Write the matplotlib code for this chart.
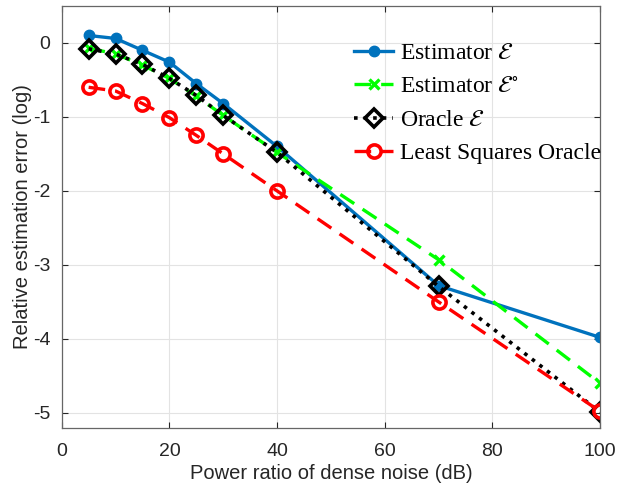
import matplotlib as mpl
import matplotlib.pyplot as plt
import numpy as np

mpl.rcParams["font.family"] = ["Liberation Sans", "DejaVu Sans"]
mpl.rcParams["mathtext.fontset"] = "stix"
mpl.rcParams["axes.unicode_minus"] = False

snr_db = [5, 10, 15, 20, 25, 30, 40, 70, 100]
est_e = [0.10, 0.06, -0.10, -0.26, -0.55, -0.82, -1.40, -3.28, -3.98]
est_e0 = [-0.07, -0.15, -0.30, -0.48, -0.72, -0.98, -1.48, -2.93, -4.60]
oracle_e = [-0.08, -0.15, -0.29, -0.48, -0.71, -0.98, -1.48, -3.29, -4.99]
ls_oracle = [-0.60, -0.65, -0.82, -1.01, -1.25, -1.50, -2.00, -3.50, -4.98]

labels = [r"Estimator $\mathcal{E}$", r"Estimator $\mathcal{E}^{\circ}$",
          r"Oracle $\mathcal{E}$", "Least Squares Oracle"]

fig = plt.figure(figsize=(6.19, 4.91), dpi=100)
ax = fig.add_axes([0.0997, 0.129, 0.8697, 0.859])

ax.plot(snr_db, est_e, "-", color="#0072BD", lw=2.4, marker="o", ms=7.5,
        label=labels[0])
ax.plot(snr_db, est_e0, "--", color="#00FF00", lw=2.4, marker="x", ms=7,
        mew=2.4, dashes=(5, 3), label=labels[1])
ax.plot(snr_db, oracle_e, ":", color="black", lw=2.6, marker="D", ms=9,
        mfc="none", mew=2.6, label=labels[2])
ax.plot(snr_db, ls_oracle, "--", color="red", lw=2.4, marker="o", ms=9.5,
        mfc="none", mew=2.6, dashes=(5, 3), label=labels[3])

ax.set_xlim(0, 100)
ax.set_ylim(-5.2, 0.5)
ax.set_xticks(np.arange(0, 101, 20))
ax.set_yticks(np.arange(-5, 1, 1))
ax.grid(True, color="#e3e3e3", lw=0.8)
ax.set_axisbelow(True)
ax.tick_params(direction="in", labelsize=14, colors="#262626", length=4,
               top=True, right=True)
ax.tick_params(axis="x", pad=11)
ax.tick_params(axis="y", pad=8)
for sp in ax.spines.values():
    sp.set_color("#666666")
    sp.set_linewidth(0.9)

ax.set_xlabel("Power ratio of dense noise (dB)", fontsize=14.5, color="#262626",
              labelpad=3)
ax.set_ylabel("Relative estimation error (log)", fontsize=14.5, color="#262626",
              labelpad=1)

leg = ax.legend(loc="upper left", bbox_to_anchor=(0.543, 0.913), frameon=False,
                prop={"family": "Liberation Serif", "size": 17},
                handlelength=1.65, handletextpad=0.3, labelspacing=0.5,
                borderaxespad=0, borderpad=0)

fig.savefig("out.png", dpi=100)
